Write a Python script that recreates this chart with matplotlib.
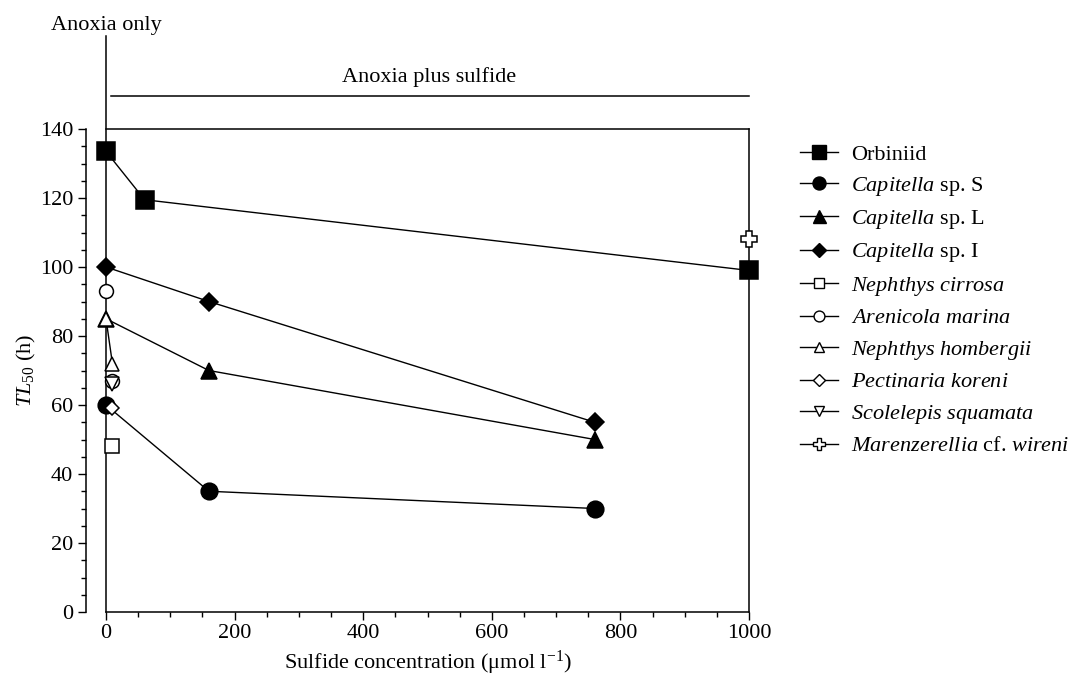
import matplotlib.pyplot as plt
import matplotlib.transforms as mtransforms
from matplotlib.lines import Line2D
from matplotlib.ticker import MultipleLocator

plt.rcParams["font.family"] = "Liberation Serif"
plt.rcParams["mathtext.fontset"] = "custom"
plt.rcParams["mathtext.rm"] = "Liberation Serif"
plt.rcParams["mathtext.it"] = "Liberation Serif:italic"
plt.rcParams["font.size"] = 16

# Sulfide concentration (umol l-1) and TL50 (h) per species
orbiniid_x = [0, 60, 1000]
orbiniid_y = [133.5, 119.5, 99]
cap_s_x = [0, 160, 760]
cap_s_y = [60, 35, 30]
cap_l_x = [0, 160, 760]
cap_l_y = [85, 70, 50]
cap_i_x = [0, 160, 760]
cap_i_y = [100, 90, 55]
neph_cir_x = [10]
neph_cir_y = [48]
arenicola_x = [0, 10]
arenicola_y = [93, 67]
neph_hom_x = [0, 10]
neph_hom_y = [85, 72]
pectinaria_x = [10]
pectinaria_y = [59]
scolelepis_x = [10]
scolelepis_y = [66]
marenz_x = [1000]
marenz_y = [108]

labels = [
    "Orbiniid",
    r"$\mathit{Capitella}$ sp. S",
    r"$\mathit{Capitella}$ sp. L",
    r"$\mathit{Capitella}$ sp. I",
    r"$\mathit{Nephthys\ cirrosa}$",
    r"$\mathit{Arenicola\ marina}$",
    r"$\mathit{Nephthys\ hombergii}$",
    r"$\mathit{Pectinaria\ koreni}$",
    r"$\mathit{Scolelepis\ squamata}$",
    r"$\mathit{Marenzerellia}$ cf. $\mathit{wireni}$",
]

# (x, y, marker, filled, size, draw line)
series = [
    (orbiniid_x, orbiniid_y, "s", True, 13, True),
    (cap_s_x, cap_s_y, "o", True, 12, True),
    (cap_l_x, cap_l_y, "^", True, 12, True),
    (cap_i_x, cap_i_y, "D", True, 9, True),
    (neph_cir_x, neph_cir_y, "s", False, 10, False),
    (arenicola_x, arenicola_y, "o", False, 10, False),
    (neph_hom_x, neph_hom_y, "^", False, 10, True),
    (pectinaria_x, pectinaria_y, "D", False, 7.5, False),
    (scolelepis_x, scolelepis_y, "v", False, 10, False),
    (marenz_x, marenz_y, "P", False, 11, False),
]

fig = plt.figure(figsize=(10.86, 6.76), dpi=100)
ax = fig.add_axes([106 / 1086, 1 - 612 / 676, 643 / 1086, 483 / 676])

handles = []
for (x, y, m, filled, ms, line), lab in zip(series, labels):
    fc = "black" if filled else "white"
    ax.plot(x, y, linestyle="-" if line else "none", color="black", lw=1.0,
            marker=m, markersize=ms, markerfacecolor=fc,
            markeredgecolor="black", markeredgewidth=1.1, clip_on=False,
            zorder=3 if filled else 4)
    handles.append(Line2D([], [], color="black", lw=1.0, marker=m,
                          markersize=ms * 0.78, markerfacecolor=fc,
                          markeredgecolor="black", markeredgewidth=1.0))

ax.set_xlim(0, 1000)
ax.set_ylim(0, 140)
ax.xaxis.set_major_locator(MultipleLocator(200))
ax.xaxis.set_minor_locator(MultipleLocator(50))
ax.yaxis.set_major_locator(MultipleLocator(20))
ax.yaxis.set_minor_locator(MultipleLocator(5))
ax.tick_params(which="major", direction="out", length=6, width=1.0,
               labelsize=16, top=False, right=False, pad=3)
ax.tick_params(which="minor", direction="out", length=3.5, width=1.0,
               top=False, right=False)
ax.spines["left"].set_position(("outward", 14.5))
for s in ax.spines.values():
    s.set_linewidth(1.1)

ax.set_xlabel(r"Sulfide concentration ($\mathrm{\mu}$mol l$^{-1}$)", fontsize=16,
              labelpad=4)
ax.set_ylabel(r"$\mathit{TL}_{50}$ (h)", fontsize=16)
ax.yaxis.set_label_coords(-0.106, 0.5)

# bracket annotations above the plot
trans = mtransforms.blended_transform_factory(ax.transData, ax.transAxes)
ax.plot([0, 0], [0, 1.193], transform=trans, color="black", lw=1.1,
        clip_on=False, zorder=2)
ax.plot([8, 1000], [1.068, 1.068], transform=trans, color="black", lw=1.1,
        clip_on=False)
ax.text(0, 1.215, "Anoxia only", transform=trans, ha="center", va="center",
        fontsize=16)
ax.text(503, 1.108, "Anoxia plus sulfide", transform=trans, ha="center",
        va="center", fontsize=16)

fig.legend(handles, labels, loc="upper left",
           bbox_to_anchor=(789 / 1086, 1 - 133 / 676), frameon=False,
           borderpad=0, handlelength=1.7, handletextpad=0.6,
           labelspacing=0.46, fontsize=16)

fig.savefig("out.png", dpi=100)
